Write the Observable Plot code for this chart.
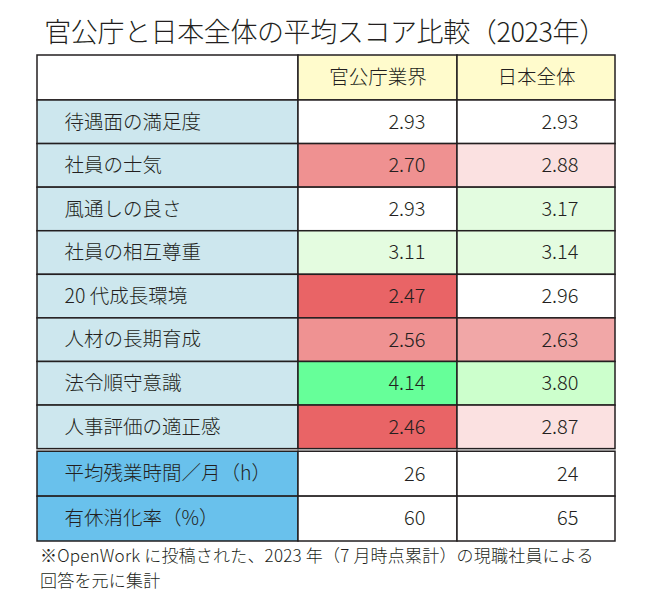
<!DOCTYPE html>
<html>
<head>
<meta charset="utf-8">
<script src="https://cdn.jsdelivr.net/npm/d3@7"></script>
<script src="https://cdn.jsdelivr.net/npm/@observablehq/plot@0.6"></script>
<style>
  html, body { margin: 0; padding: 0; background: #fff; }
  body { width: 650px; height: 598px; overflow: hidden; font-family: "Noto Sans CJK JP", "Noto Sans", sans-serif; color: #231f20; font-weight: 300; }
  #title { height: 50px; box-sizing: border-box; padding-top: 17px; font-size: 27px; line-height: 1; text-align: center; letter-spacing: -0.4px; white-space: nowrap; font-weight: 300; }
  #chart svg { display: block; }
  #note { padding-left: 40px; font-size: 17px; line-height: 25px; letter-spacing: 0.2px; white-space: nowrap; font-weight: 300; }
</style>
</head>
<body>
<div id="title"></div>
<div id="chart"></div>
<div id="note"></div>
<script>
// ---- data ----
const title = "官公庁と日本全体の平均スコア比較（2023年）";
const columns = ["官公庁業界", "日本全体"];
const categories = ["待遇面の満足度", "社員の士気", "風通しの良さ", "社員の相互尊重", "20 代成長環境", "人材の長期育成", "法令順守意識", "人事評価の適正感"];
const govScores = [2.93, 2.70, 2.93, 3.11, 2.47, 2.56, 4.14, 2.46];
const japanScores = [2.93, 2.88, 3.17, 3.14, 2.96, 2.63, 3.80, 2.87];
const extraCategories = ["平均残業時間／月（h）", "有休消化率（%）"];
const govExtra = [26, 60];
const japanExtra = [24, 65];
const noteLines = ["※OpenWork に投稿された、2023 年（7 月時点累計）の現職社員による", "回答を元に集計"];

// ---- styles (conditional-format colours per cell) ----
const govFill = ["#ffffff", "#ef9191", "#ffffff", "#e4fce0", "#e96466", "#ef9292", "#66ff99", "#e96466"];
const japanFill = ["#ffffff", "#fbe1e1", "#e3fce0", "#e4fce0", "#ffffff", "#f1a7a7", "#ccffcc", "#fbe1e1"];
const headerFill = "#fffbcc";
const labelFill = "#cde7ee";
const extraLabelFill = "#69c1ec";
const ink = "#231f20";

// ---- layout (table units) ----
const colW = [261, 159, 158];
const headerH = 45, rowH = 43.6, gapH = 2.6, extraH = 44.9;
const colX = [0, colW[0], colW[0] + colW[1], colW[0] + colW[1] + colW[2]];
const totalW = colX[3];

const cells = [];
const texts = [];
let y = 0;
// header row
cells.push({x1: colX[0], x2: colX[1], y1: y, y2: y + headerH, fill: "#ffffff"});
columns.forEach((c, j) => {
  cells.push({x1: colX[j + 1], x2: colX[j + 2], y1: y, y2: y + headerH, fill: headerFill});
  texts.push({x: (colX[j + 1] + colX[j + 2]) / 2, y: y + headerH / 2, text: c, anchor: "middle"});
});
y += headerH;
const fmt = d3.format(".2f");
categories.forEach((cat, i) => {
  cells.push({x1: colX[0], x2: colX[1], y1: y, y2: y + rowH, fill: labelFill});
  cells.push({x1: colX[1], x2: colX[2], y1: y, y2: y + rowH, fill: govFill[i]});
  cells.push({x1: colX[2], x2: colX[3], y1: y, y2: y + rowH, fill: japanFill[i]});
  texts.push({x: colX[0] + 27, y: y + rowH / 2, text: cat, anchor: "start"});
  texts.push({x: colX[2] - 32, y: y + rowH / 2, text: fmt(govScores[i]), anchor: "end"});
  texts.push({x: colX[3] - 37, y: y + rowH / 2, text: fmt(japanScores[i]), anchor: "end"});
  y += rowH;
});
y += gapH;
extraCategories.forEach((cat, i) => {
  cells.push({x1: colX[0], x2: colX[1], y1: y, y2: y + extraH, fill: extraLabelFill});
  cells.push({x1: colX[1], x2: colX[2], y1: y, y2: y + extraH, fill: "#ffffff"});
  cells.push({x1: colX[2], x2: colX[3], y1: y, y2: y + extraH, fill: "#ffffff"});
  texts.push({x: colX[0] + 27, y: y + extraH / 2, text: cat, anchor: "start"});
  texts.push({x: colX[2] - 32, y: y + extraH / 2, text: String(govExtra[i]), anchor: "end"});
  texts.push({x: colX[3] - 37, y: y + extraH / 2, text: String(japanExtra[i]), anchor: "end"});
  y += extraH;
});
const totalH = y;

document.getElementById("title").textContent = title;
document.getElementById("note").innerHTML = noteLines.map(l => l.replace(/&/g, "&amp;").replace(/</g, "&lt;")).join("<br>");

const fontFamily = '"Noto Sans CJK JP", "Noto Sans", sans-serif';
const chart = Plot.plot({
  width: 650,
  height: 492,
  marginTop: 5,
  marginBottom: 1,
  marginLeft: 37,
  marginRight: 35,
  x: {domain: [0, totalW], axis: null},
  y: {domain: [0, totalH], reverse: true, axis: null},
  style: {fontFamily, background: "#fff", overflow: "visible"},
  marks: [
    Plot.rect(cells, {x1: "x1", x2: "x2", y1: "y1", y2: "y2", fill: "fill", stroke: ink, strokeWidth: 1.5}),
    Plot.text(texts.filter(d => d.anchor === "start"), {x: "x", y: "y", text: "text", textAnchor: "start", fontSize: 19.5, fontWeight: 300, fill: ink}),
    Plot.text(texts.filter(d => d.anchor === "middle"), {x: "x", y: "y", text: "text", textAnchor: "middle", fontSize: 19.5, fontWeight: 300, fill: ink}),
    Plot.text(texts.filter(d => d.anchor === "end"), {x: "x", y: "y", text: "text", textAnchor: "end", fontSize: 20, fontWeight: 300, fill: ink})
  ]
});
document.getElementById("chart").appendChild(chart);
</script>
</body>
</html>
